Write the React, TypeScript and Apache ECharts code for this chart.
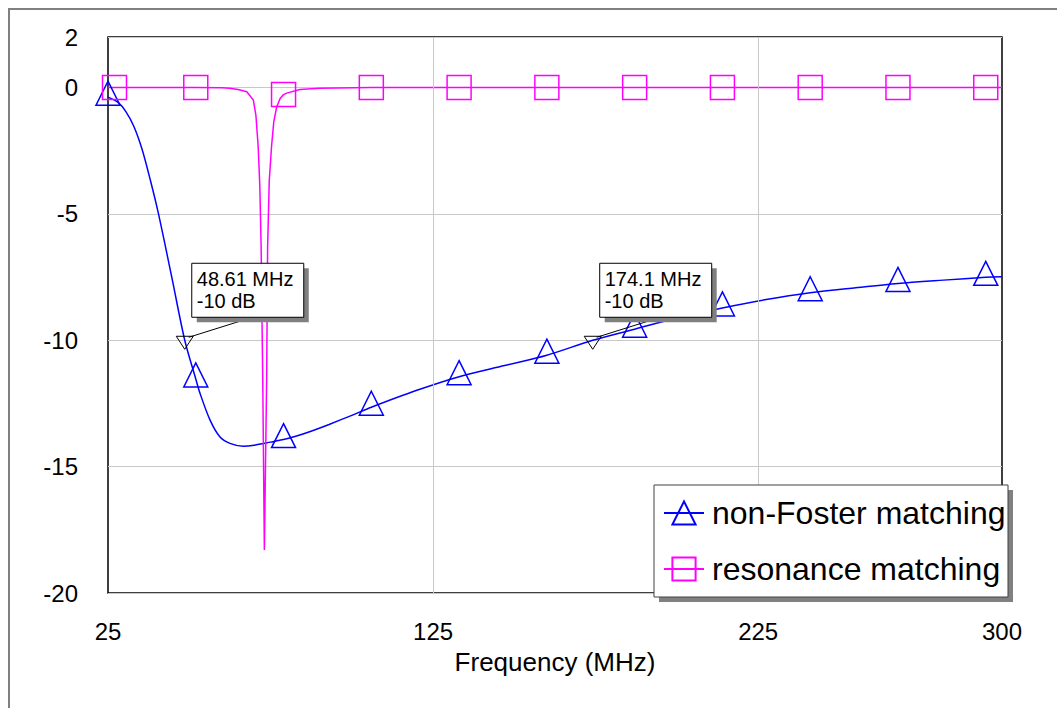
import React, { useEffect, useRef } from 'react';
import * as echarts from 'echarts';

const xTickLabels = [25, 125, 225, 300];
const xGridLines = [125, 225];

const blueFreq = [25, 28, 30.5, 33, 35.5, 38, 40.5, 44.6, 48.61, 52, 53.3, 56.4, 59.4, 62.5, 66.6, 70, 75, 79, 83, 87, 93, 100, 106, 120, 133, 147, 160, 174.1, 187, 200, 214, 227, 241, 255, 268, 282, 295, 300];
const blueVal = [-0.38, -0.58, -0.95, -1.55, -2.45, -3.65, -4.98, -7.49, -10.0, -11.53, -12.1, -13.16, -13.82, -14.08, -14.19, -14.15, -14.03, -13.93, -13.79, -13.62, -13.33, -12.97, -12.65, -11.98, -11.44, -11.0, -10.59, -10.0, -9.56, -9.12, -8.72, -8.4, -8.12, -7.92, -7.75, -7.62, -7.51, -7.49];
const blueMarkers = [25, 52, 79, 106, 133, 160, 187, 214, 241, 268, 295];

const magFreq = [25, 27, 52, 60, 62.5, 65, 67.7, 69.7, 70.5, 71.2, 71.7, 72.1, 72.6, 73.1, 73.8, 74.1, 74.6, 75.3, 76, 76.9, 78, 79, 80, 84, 90, 106, 133, 160, 187, 214, 241, 268, 295, 300];
const magVal = [0, 0, 0, -0.01, -0.03, -0.08, -0.17, -0.49, -1.1, -2.34, -3.9, -6.3, -11.57, -18.3, -11.57, -6.3, -3.7, -2.34, -1.35, -0.76, -0.42, -0.28, -0.22, -0.08, -0.03, 0, 0, 0, 0, 0, 0, 0, 0, 0];
const magMarkers = [27, 52, 79, 106, 133, 160, 187, 214, 241, 268, 295];

const markerFreqs = [48.61, 174.1];
const markerVals = [-10, -10];
const markerLabels = [['48.61 MHz', '-10 dB'], ['174.1 MHz', '-10 dB']];

const seriesNames = ['non-Foster matching', 'resonance matching'];

export default function App() {
  const ref = useRef<HTMLDivElement>(null);
  useEffect(() => {
    const chart = echarts.init(ref.current!, undefined, { renderer: 'svg' });
    const font = "'Liberation Sans', Arial, sans-serif";
    const mk = (fs: number[], vs: number[], markers: number[]) =>
      fs.map((f, i) => (markers.includes(f) ? { value: [f, vs[i]] } : { value: [f, vs[i]], symbol: 'none' }));
    chart.setOption({
      animation: false,
      grid: { left: 98, top: 27, right: 55, bottom: 115, show: true, borderColor: '#000', borderWidth: 1.5 },
      xAxis: {
        type: 'value', min: 25, max: 300, interval: 25,
        name: 'Frequency (MHz)', nameLocation: 'middle', nameGap: 56,
        nameTextStyle: { fontSize: 26, color: '#000', fontFamily: font },
        axisLine: { show: false }, axisTick: { show: false }, splitLine: { show: false },
        axisLabel: {
          fontSize: 24, color: '#000', fontFamily: font, margin: 26,
          formatter: (v: number) => (xTickLabels.includes(Math.round(v)) ? String(Math.round(v)) : ''),
        },
      },
      yAxis: {
        type: 'value', min: -20, max: 2, interval: 5,
        axisLine: { show: false }, axisTick: { show: false },
        splitLine: { lineStyle: { color: '#c8c8c8', width: 1 } },
        axisLabel: { fontSize: 24, color: '#000', fontFamily: font, margin: 30 },
      },
      legend: {
        data: seriesNames, orient: 'vertical', left: 653, top: 487, padding: 0,
        itemGap: 24, itemWidth: 40, itemHeight: 29, selectedMode: false, z: 10,
        textStyle: { fontSize: 32, color: '#000', fontFamily: font, padding: [0, 0, 0, 3] },
      },
      series: [
        {
          name: 'grid', type: 'line', data: [], z: 1, silent: true,
          markLine: {
            silent: true, symbol: 'none', label: { show: false },
            lineStyle: { color: '#c8c8c8', width: 1, type: 'solid' },
            data: xGridLines.map((x) => ({ xAxis: x })),
          },
        },
        {
          name: seriesNames[0], type: 'line', data: mk(blueFreq, blueVal, blueMarkers),
          smooth: 0.3, symbol: 'triangle', symbolSize: [24, 24], symbolOffset: [0, -4],
          lineStyle: { color: '#0000ff', width: 1.5 },
          itemStyle: { color: 'rgba(255,255,255,0)', borderColor: '#0000ff', borderWidth: 1.5 },
          z: 3,
        },
        {
          name: seriesNames[1], type: 'line', data: mk(magFreq, magVal, magMarkers),
          smooth: false, symbol: 'rect', symbolSize: [24, 24],
          lineStyle: { color: '#ff00ff', width: 1.5 },
          itemStyle: { color: 'rgba(255,255,255,0)', borderColor: '#ff00ff', borderWidth: 1.5 },
          z: 3,
        },
      ],
    });

    const g: any[] = [];
    g.push({ type: 'rect', shape: { x: 649, y: 480, width: 354, height: 112 }, style: { fill: '#808080' }, z: 5 });
    g.push({ type: 'rect', shape: { x: 644, y: 475, width: 354, height: 112 }, style: { fill: '#fff', stroke: '#404040', lineWidth: 1 }, z: 6 });
    markerFreqs.forEach((f, i) => {
      const [px, py] = chart.convertToPixel({ xAxisIndex: 0, yAxisIndex: 0 }, [f, markerVals[i]]) as number[];
      const bx = px + 7;
      const by = py - 77;
      g.push({ type: 'line', shape: { x1: px + 4, y1: py - 3, x2: bx + 48, y2: by + 58 }, style: { stroke: '#000', lineWidth: 1 }, z: 5 });
      g.push({ type: 'polygon', shape: { points: [[px - 8.5, py - 4], [px + 8.5, py - 4], [px, py + 9]] }, style: { fill: 'none', stroke: '#000', lineWidth: 1 }, z: 5 });
      g.push({ type: 'rect', shape: { x: bx + 5, y: by + 5, width: 112, height: 54 }, style: { fill: '#808080' }, z: 6 });
      g.push({ type: 'rect', shape: { x: bx, y: by, width: 112, height: 54 }, style: { fill: '#fff', stroke: '#000', lineWidth: 1 }, z: 7 });
      g.push({
        type: 'text', x: bx + 5, y: by + 5, z: 8,
        style: { text: markerLabels[i].join('\n'), fontSize: 20, lineHeight: 22, fill: '#000', fontFamily: font, verticalAlign: 'top' },
      });
    });
    chart.setOption({ graphic: g });
    return () => chart.dispose();
  }, []);

  return (
    <div style={{ position: 'absolute', left: 8, top: 8, width: 1049, height: 700, borderLeft: '2px solid #808080', borderTop: '2px solid #808080', boxSizing: 'border-box', background: '#fff' }}>
      <div ref={ref} style={{ width: 1047, height: 698 }} />
    </div>
  );
}
